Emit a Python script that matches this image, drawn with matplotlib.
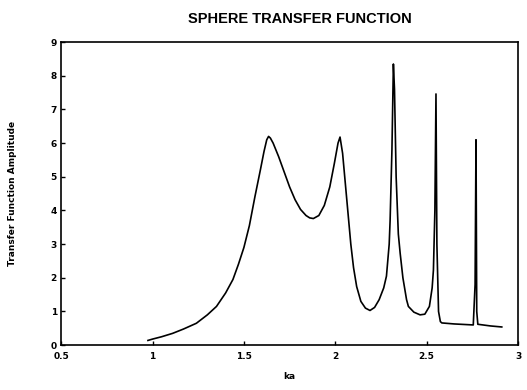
import matplotlib
matplotlib.use('Agg')
import matplotlib.pyplot as plt

# values
ka = [0.975, 1.00, 1.05, 1.11, 1.17, 1.24, 1.30, 1.35, 1.40, 1.44,
      1.47, 1.50, 1.53, 1.56, 1.59, 1.61, 1.625, 1.635, 1.645, 1.66,
      1.69, 1.72, 1.75, 1.78, 1.81, 1.84, 1.86, 1.88, 1.91, 1.94,
      1.97, 1.995, 2.015, 2.026, 2.04, 2.055, 2.07, 2.085, 2.10, 2.117,
      2.14, 2.165, 2.19, 2.215, 2.24, 2.265, 2.28, 2.295, 2.30, 2.31,
      2.318, 2.324, 2.333, 2.345, 2.355, 2.37, 2.39, 2.40, 2.43, 2.464,
      2.49, 2.515, 2.53, 2.537, 2.545, 2.551, 2.556, 2.565, 2.575, 2.583,
      2.65, 2.72, 2.755, 2.765, 2.770, 2.774, 2.78, 2.85, 2.911]
amp = [0.14, 0.18, 0.25, 0.35, 0.48, 0.65, 0.90, 1.15, 1.55, 1.95,
       2.40, 2.90, 3.55, 4.40, 5.20, 5.75, 6.10, 6.20, 6.15, 6.00,
       5.60, 5.15, 4.70, 4.32, 4.03, 3.85, 3.78, 3.76, 3.85, 4.15,
       4.70, 5.40, 6.00, 6.18, 5.70, 4.80, 3.90, 3.00, 2.30, 1.74,
       1.30, 1.10, 1.03, 1.12, 1.35, 1.70, 2.05, 3.00, 3.70, 5.80,
       8.35, 7.60, 5.00, 3.30, 2.73, 2.00, 1.35, 1.15, 0.98, 0.90,
       0.92, 1.15, 1.70, 2.23, 4.00, 7.46, 3.00, 1.00, 0.70, 0.66,
       0.63, 0.61, 0.60, 1.80, 6.10, 1.00, 0.62, 0.57, 0.54]

xticks = [0.5, 1, 1.5, 2, 2.5, 3]
xtick_labels = ['0.5', '1', '1.5', '2', '2.5', '3']
yticks = [0, 1, 2, 3, 4, 5, 6, 7, 8, 9]

fig = plt.figure(figsize=(5.27, 3.90), dpi=100)
ax = fig.add_axes([0.116, 0.115, 0.867, 0.777])

ax.plot(ka, amp, color='black', linewidth=1.2)

ax.set_xlim(0.5, 3)
ax.set_ylim(0, 9)
ax.set_xticks(xticks)
ax.set_xticklabels(xtick_labels)
ax.set_yticks(yticks)
ax.tick_params(direction='in', length=3, width=1, labelsize=6.5)
ax.tick_params(axis='x', pad=5)
ax.tick_params(axis='y', pad=3)
for lab in ax.get_xticklabels() + ax.get_yticklabels():
    lab.set_fontweight('bold')
for s in ax.spines.values():
    s.set_linewidth(1.2)

ax.set_xlabel('ka', fontsize=6.5, fontweight='bold')
ax.set_ylabel('Transfer Function Amplitude', fontsize=6.5, fontweight='bold')
ax.xaxis.set_label_coords(0.5, -0.088)
ax.yaxis.set_label_coords(-0.097, 0.5)

fig.text(0.569, 0.952, 'SPHERE TRANSFER FUNCTION', ha='center', va='center',
         fontsize=10.5, fontweight='bold', family='Liberation Sans')

fig.savefig('out.png', dpi=100)
